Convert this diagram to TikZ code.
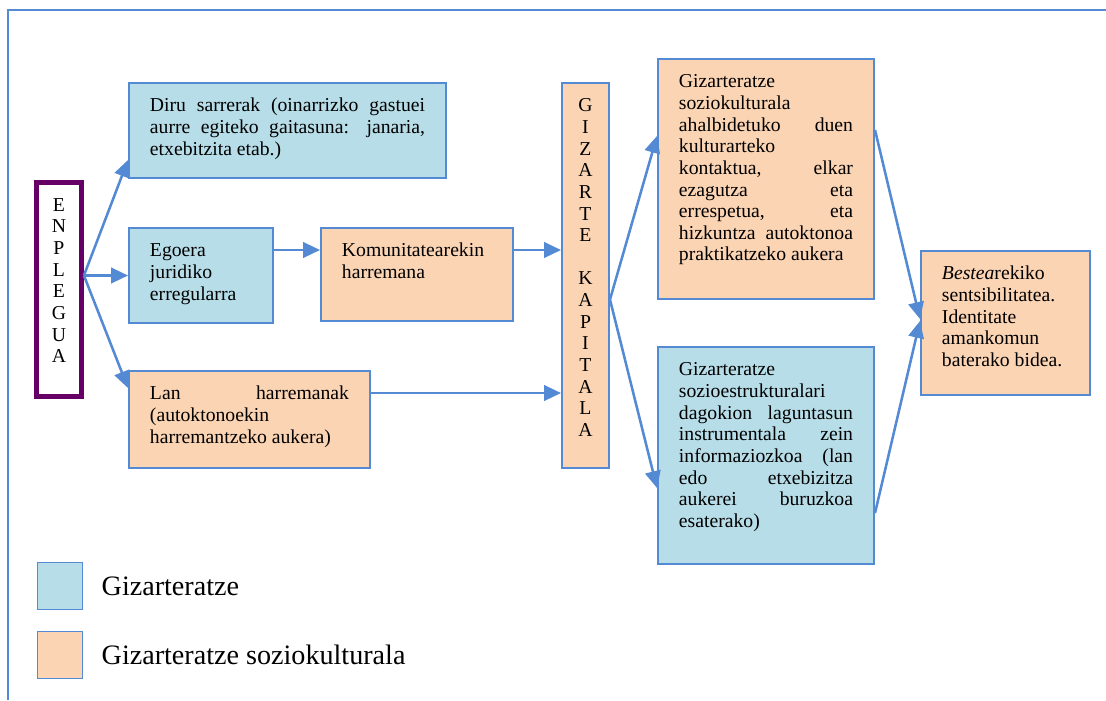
\documentclass[tikz,border=0pt]{standalone}
\usepackage{fontspec}
\setmainfont{Liberation Serif}
\usepackage{xcolor}
\usetikzlibrary{positioning}
\usetikzlibrary{arrows.meta}
\usetikzlibrary{calc}

\definecolor{boxblue}{RGB}{183,221,232}
\definecolor{boxorange}{RGB}{251,212,180}
\definecolor{linkblue}{RGB}{84,137,212}
\definecolor{enplpurple}{RGB}{102,0,102}

\tolerance=10000
\hyphenpenalty=10000
\hbadness=10000

\begin{document}
\begin{tikzpicture}[x=0.025cm, y=-0.025cm,
  txt/.style={font=\fontsize{14}{15.4}\selectfont},
  card/.style={txt, draw=linkblue, line width=1.4pt, anchor=north west,
    align=justify, inner xsep=0.525cm, inner ysep=8pt, text height=12.45pt},
  bluecard/.style={card, fill=boxblue},
  orangecard/.style={card, fill=boxorange},
  keybox/.style={draw=linkblue, line width=1pt, anchor=north west, inner sep=0pt,
    minimum width=1.125cm, minimum height=1.175cm},
  keytext/.style={font=\fontsize{20}{24}\selectfont, inner sep=0pt},
  link/.style={draw=linkblue, line width=1.8pt, -{Triangle[length=12pt,width=11pt]}}]

  \useasboundingbox (0,0) rectangle (1106,700);

  % outer frame
  \draw[linkblue, line width=1pt] (1106,10) -- (8,10) -- (8,700);

  % left column
  \node[card, draw=enplpurple, fill=white, line width=3.5pt, align=center,
    inner xsep=0pt, text width=1.125cm, text depth=4.35cm] (enplegua) at (34,180)
    {E\\N\\P\\L\\E\\G\\U\\A};

  \node[bluecard, text width=6.875cm, text depth=1.375cm] (diru) at (128,82)
    {Diru sarrerak (oinarrizko gastuei\linebreak aurre egiteko gaitasuna: janaria,\linebreak
     etxebitzita etab.)};
  \node[bluecard, text width=2.55cm, text depth=1.375cm] (egoera) at (128,227)
    {Egoera\\ juridiko\\ erregularra};
  \node[orangecard, text width=3.75cm, text depth=1.325cm] (komu) at (320,227)
    {Komunitatearekin\\ harremana};
  \node[orangecard, text width=4.975cm, text depth=1.425cm] (lan) at (128,370)
    {Lan harremanak\linebreak (autoktonoekin\\ harremantzeko aukera)};

  % social capital
  \node[orangecard, align=center, inner xsep=0pt, text width=1.175cm,
    text depth=8.625cm] (kapitala) at (561,82)
    {G\\I\\Z\\A\\R\\T\\E\\[15.4pt]K\\A\\P\\I\\T\\A\\L\\A};

  % right column
  \node[orangecard, text width=4.35cm, text depth=5.0cm] (soziokult) at (657,58)
    {Gizarteratze\\ soziokulturala\\ ahalbidetuko duen\linebreak kulturarteko\\
     kontaktua, elkar\linebreak ezagutza eta\linebreak errespetua, eta\linebreak
     hizkuntza autoktonoa\linebreak praktikatzeko aukera};
  \node[bluecard, text width=4.35cm, text depth=4.425cm] (sozioestr) at (657,346)
    {Gizarteratze\\ sozioestrukturalari\\ dagokion laguntasun\linebreak
     instrumentala zein\linebreak informaziozkoa (lan\linebreak edo etxebizitza\linebreak
     aukerei buruzkoa\linebreak esaterako)};
  \node[orangecard, text width=3.175cm, text depth=2.6cm] (bestea) at (920,250)
    {\textit{Bestea}rekiko\\ sentsibilitatea.\\ Identitate\\ amankomun\\ baterako bidea.};

  % legend
  \node[keybox, fill=boxblue] (keyblue) at (37,562) {};
  \node[keytext, right=0.45cm of keyblue] (keybluetext) {Gizarteratze};
  \node[keybox, fill=boxorange] (keyorange) at (37,631) {};
  \node[keytext, right=0.45cm of keyorange] (keyorangetext) {Gizarteratze soziokulturala};

  % arrows out of enplegua
  \coordinate (hub) at (enplegua.east |- egoera.west);
  \draw[link] (hub) -- ($(diru.south west)+(0,-19)$);
  \draw[link] (hub) -- (egoera.west);
  \draw[link] (hub) -- ($(lan.north west)+(0,18)$);

  % into the social capital
  \draw[link] ($(egoera.north east)+(0,23)$) coordinate (e1) -- (e1 -| komu.west);
  \draw[link] (komu.east |- e1) -- (e1 -| kapitala.west);
  \draw[link] ($(lan.north east)+(0,23)$) coordinate (l1) -- (l1 -| kapitala.west);

  % out of the social capital
  \coordinate (kout) at ($(kapitala.east)+(0,24)$);
  \draw[link] (kout) -- ($(soziokult.north west)+(0,78)$);
  \draw[link] (kout) -- ($(sozioestr.north west)+(0,142)$);

  % towards bestea
  \draw[link] ($(soziokult.north east)+(0,72)$) -- ($(bestea.west)+(0,-4)$);
  \draw[link] ($(sozioestr.north east)+(0,167)$) -- ($(bestea.west)+(0,-2)$);

\end{tikzpicture}
\end{document}
